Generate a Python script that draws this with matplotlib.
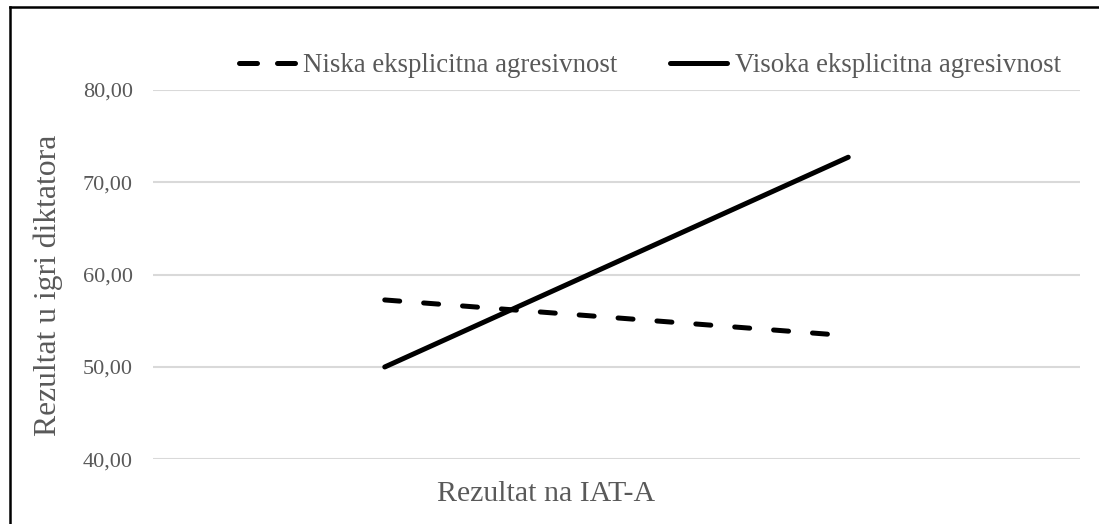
import matplotlib.pyplot as plt
from matplotlib.lines import Line2D

# data ----------------------------------
categories = ['Niska', 'Visoka']          # levels of IAT-A (low / high)
niska = [57.26, 53.38]                    # Niska eksplicitna agresivnost
visoka = [50.00, 72.72]                   # Visoka eksplicitna agresivnost
y_ticks = [40, 50, 60, 70, 80]
series_names = ['Niska eksplicitna agresivnost', 'Visoka eksplicitna agresivnost']

txt_col = '#595959'
grid_col = '#d9d9d9'
serif = ['Liberation Serif', 'DejaVu Serif']

fig = plt.figure(figsize=(10.99, 5.24), dpi=100)
ax = fig.add_axes([153 / 1099, 1 - 459.3 / 524, 927 / 1099, 369.3 / 524])

x = list(range(len(categories)))
ax.plot(x, niska, color='black', lw=3.6, dashes=(3, 4.8),
        dash_capstyle='round', solid_capstyle='round')
ax.plot(x, visoka, color='black', lw=3.6, solid_capstyle='round')

ax.set_xlim(-0.5, len(categories) - 0.5)
ax.set_ylim(40, 80)
ax.set_yticks(y_ticks)
ax.set_yticklabels(['%d,00' % v for v in y_ticks], fontfamily=serif,
                   fontsize=16, color=txt_col)
ax.set_xticks([])
ax.tick_params(axis='y', length=0, pad=14.4)
ax.grid(axis='y', color=grid_col, lw=1.5)
ax.set_axisbelow(True)
for s in ax.spines.values():
    s.set_visible(False)
ax.patch.set_alpha(0)

# axis titles
fig.text(48.5 / 1099, 1 - 285 / 524, 'Rezultat u igri diktatora', rotation=90,
         ha='center', va='center', fontfamily=serif, fontsize=22.8, color=txt_col)
fig.text(546.5 / 1099, 1 - 500.7 / 524, 'Rezultat na IAT-A', ha='center',
         va='baseline', fontfamily=serif, fontsize=21.5, color=txt_col)

# legend (proxy handles so the dashes fill the handle)
h_dash = Line2D([], [], color='black', lw=3.6, dashes=(3.6, 4.0),
                dash_capstyle='round')
h_solid = Line2D([], [], color='black', lw=3.6, solid_capstyle='round')
leg = fig.legend([h_dash, h_solid], series_names, loc='center',
                 bbox_to_anchor=(650 / 1099, 1 - 66 / 524), ncol=2,
                 frameon=False, handlelength=2.1, handletextpad=0.3,
                 columnspacing=1.95, borderpad=0,
                 prop={'family': serif, 'size': 19.4})
for t in leg.get_texts():
    t.set_color(txt_col)

# chart border (left and top)
fig.add_artist(Line2D([9.5 / 1099, 9.5 / 1099], [0, 1 - 6.5 / 524], color='black',
                      lw=1.8, transform=fig.transFigure))
fig.add_artist(Line2D([9.5 / 1099, 1], [1 - 6.5 / 524, 1 - 6.5 / 524], color='black',
                      lw=1.8, transform=fig.transFigure))

fig.savefig('out.png', dpi=100)
